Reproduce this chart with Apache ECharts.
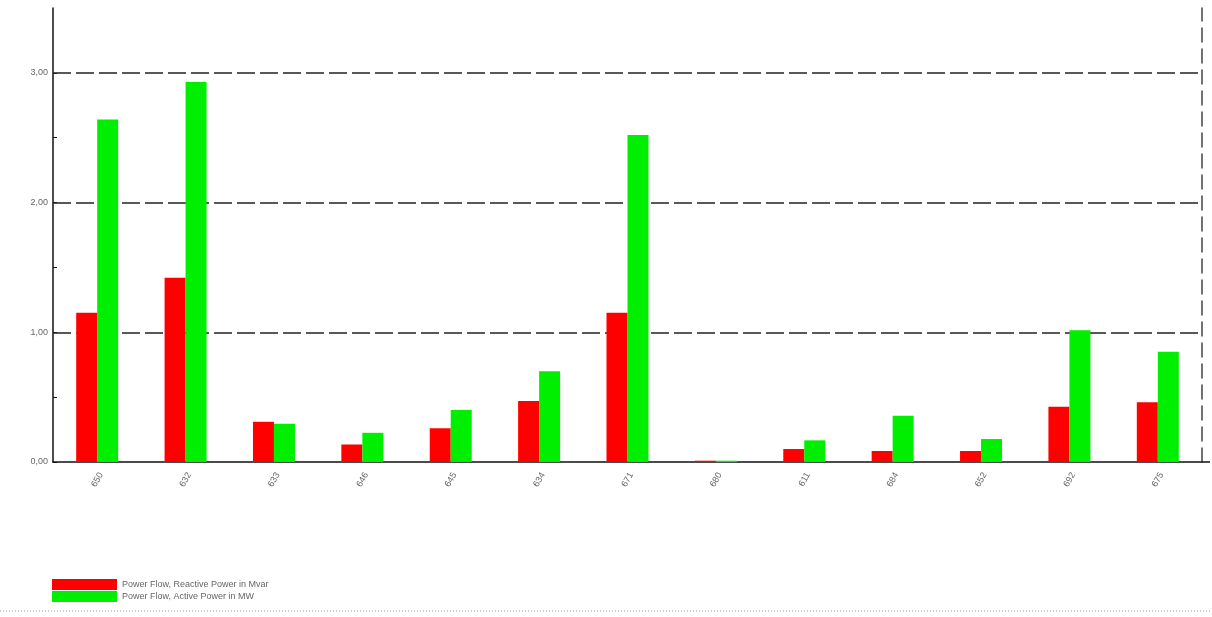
<!DOCTYPE html>
<html>
<head>
<meta charset="utf-8">
<script src="https://cdn.jsdelivr.net/npm/echarts@6/dist/echarts.min.js"></script>
<style>
html,body{margin:0;padding:0;background:#fff;}
#c{width:1212px;height:617px;}
</style>
</head>
<body>
<div id="c"></div>
<script>
const categories = ["650","632","633","646","645","634","671","680","611","684","652","692","675"];
const reactiveMvar = [1.15, 1.42, 0.31, 0.135, 0.26, 0.47, 1.15, 0.01, 0.10, 0.085, 0.085, 0.425, 0.46];
const activeMW = [2.64, 2.93, 0.295, 0.225, 0.40, 0.70, 2.52, 0.01, 0.167, 0.356, 0.177, 1.015, 0.85];
const seriesNames = ["Power Flow, Reactive Power in Mvar", "Power Flow, Active Power in MW"];
const yMin = 0, yMax = 3.5, yInterval = 1;
const gridValues = [1, 2, 3];
const yTickValues = [0, 1, 2, 3];

const chart = echarts.init(document.getElementById('c'), null, {renderer: 'canvas'});
const font = 'Liberation Sans, Arial, sans-serif';
chart.setOption({
  animation: false,
  backgroundColor: '#ffffff',
  textStyle: {fontFamily: font},
  grid: {left: 53, right: 10, top: 8, bottom: 155, containLabel: false},
  legend: {
    orient: 'vertical', left: 47, top: 574,
    itemWidth: 65, itemHeight: 11, itemGap: 1,
    icon: 'rect',
    textStyle: {fontSize: 9, color: '#666', fontFamily: font},
    data: seriesNames
  },
  xAxis: {
    type: 'category',
    data: categories,
    axisLine: {show: true, lineStyle: {color: '#111', width: 1.5}},
    axisTick: {show: false},
    axisLabel: {rotate: 60, fontSize: 9, color: '#666', margin: 9, fontFamily: font,
      align: 'right', verticalAlign: 'top'},
    splitLine: {show: false}
  },
  yAxis: [{
    type: 'value',
    min: yMin, max: yMax, interval: yInterval,
    axisLine: {show: true, lineStyle: {color: '#111', width: 1.5}},
    axisTick: {show: true, inside: true, length: 4, lineStyle: {color: '#111'}, customValues: yTickValues},
    minorTick: {show: true, splitNumber: 2, length: 4, lineStyle: {color: '#111'}},
    axisLabel: {
      fontSize: 9, color: '#666', margin: 5, fontFamily: font,
      customValues: yTickValues,
      formatter: function(v){ return v.toFixed(2).replace('.', ','); }
    },
    splitLine: {show: false}
  }, {
    type: 'value',
    position: 'right',
    min: yMin, max: yMax, interval: yInterval,
    axisLine: {show: true, lineStyle: {color: '#444', width: 1.5, type: [14, 7]}},
    axisTick: {show: false},
    axisLabel: {show: false},
    splitLine: {show: false}
  }],
  series: [{
    name: seriesNames[0],
    type: 'bar',
    data: reactiveMvar,
    barWidth: 21,
    barGap: '0%',
    itemStyle: {color: '#ff0000'},
    markLine: {
      silent: true,
      symbol: 'none',
      label: {show: false},
      z: 1,
      lineStyle: {color: '#222', width: 1.5, type: [18, 5]},
      data: gridValues.map(function(v){ return {yAxis: v}; })
    }
  }, {
    name: seriesNames[1],
    type: 'bar',
    data: activeMW,
    barWidth: 21,
    barGap: '0%',
    itemStyle: {color: '#00ee00'}
  }],
  graphic: [{
    type: 'line',
    shape: {x1: 0, y1: 611, x2: 1212, y2: 611},
    style: {stroke: '#999', lineWidth: 1, lineDash: [1, 2]}
  }, {
    type: 'line',
    shape: {x1: 1202, y1: 462, x2: 1210, y2: 462},
    style: {stroke: '#111', lineWidth: 1.5}
  }]
});
</script>
</body>
</html>
